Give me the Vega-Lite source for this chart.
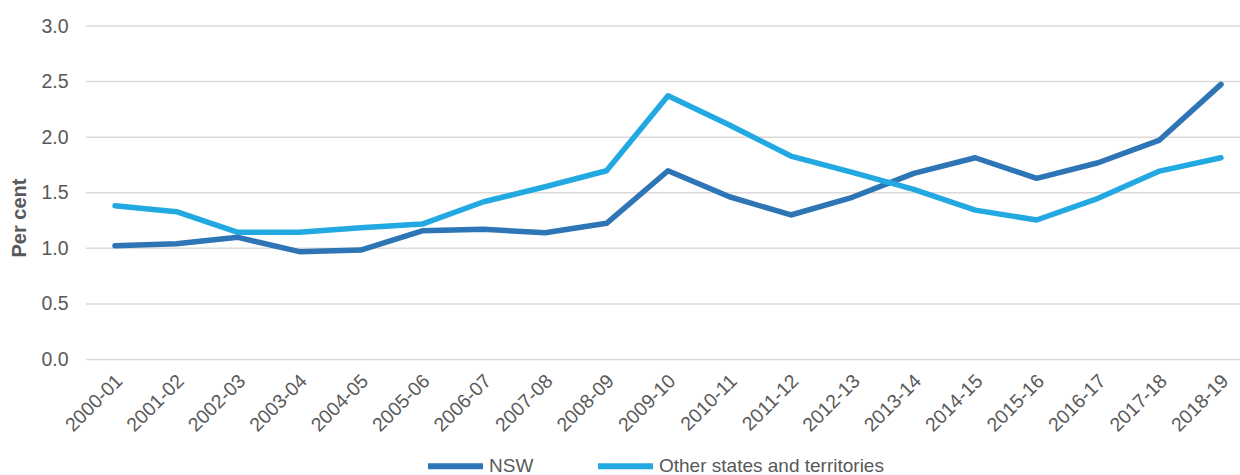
{
  "$schema": "https://vega.github.io/schema/vega-lite/v6.json",
  "width": 1154,
  "height": 333.5,
  "autosize": {"type": "none"},
  "padding": {"left": 86, "top": 26, "right": 0, "bottom": 115.5},
  "background": "white",
  "config": {
    "view": {"stroke": null},
    "font": "Liberation Sans",
    "axis": {"labelFont": "Liberation Sans", "titleFont": "Liberation Sans", "labelColor": "#595959", "titleColor": "#595959"},
    "legend": {"labelFont": "Liberation Sans"}
  },
  "datasets": {
    "grid": [{"g": 0}, {"g": 0.5}, {"g": 1}, {"g": 1.5}, {"g": 2}, {"g": 2.5}, {"g": 3}],
    "series": [
      {"year": "2000-01", "series": "NSW", "value": 1.023},
      {"year": "2001-02", "series": "NSW", "value": 1.041},
      {"year": "2002-03", "series": "NSW", "value": 1.099},
      {"year": "2003-04", "series": "NSW", "value": 0.97},
      {"year": "2004-05", "series": "NSW", "value": 0.985},
      {"year": "2005-06", "series": "NSW", "value": 1.158},
      {"year": "2006-07", "series": "NSW", "value": 1.171},
      {"year": "2007-08", "series": "NSW", "value": 1.141},
      {"year": "2008-09", "series": "NSW", "value": 1.225},
      {"year": "2009-10", "series": "NSW", "value": 1.698},
      {"year": "2010-11", "series": "NSW", "value": 1.464},
      {"year": "2011-12", "series": "NSW", "value": 1.30},
      {"year": "2012-13", "series": "NSW", "value": 1.459},
      {"year": "2013-14", "series": "NSW", "value": 1.674},
      {"year": "2014-15", "series": "NSW", "value": 1.815},
      {"year": "2015-16", "series": "NSW", "value": 1.63},
      {"year": "2016-17", "series": "NSW", "value": 1.77},
      {"year": "2017-18", "series": "NSW", "value": 1.974},
      {"year": "2018-19", "series": "NSW", "value": 2.475},
      {"year": "2000-01", "series": "Other states and territories", "value": 1.383},
      {"year": "2001-02", "series": "Other states and territories", "value": 1.33},
      {"year": "2002-03", "series": "Other states and territories", "value": 1.144},
      {"year": "2003-04", "series": "Other states and territories", "value": 1.144},
      {"year": "2004-05", "series": "Other states and territories", "value": 1.185},
      {"year": "2005-06", "series": "Other states and territories", "value": 1.218},
      {"year": "2006-07", "series": "Other states and territories", "value": 1.419},
      {"year": "2007-08", "series": "Other states and territories", "value": 1.554},
      {"year": "2008-09", "series": "Other states and territories", "value": 1.698},
      {"year": "2009-10", "series": "Other states and territories", "value": 2.372},
      {"year": "2010-11", "series": "Other states and territories", "value": 2.109},
      {"year": "2011-12", "series": "Other states and territories", "value": 1.83},
      {"year": "2012-13", "series": "Other states and territories", "value": 1.683},
      {"year": "2013-14", "series": "Other states and territories", "value": 1.53},
      {"year": "2014-15", "series": "Other states and territories", "value": 1.344},
      {"year": "2015-16", "series": "Other states and territories", "value": 1.255},
      {"year": "2016-17", "series": "Other states and territories", "value": 1.45},
      {"year": "2017-18", "series": "Other states and territories", "value": 1.695},
      {"year": "2018-19", "series": "Other states and territories", "value": 1.815}
    ]
  },
  "layer": [
    {
      "data": {"name": "grid"},
      "mark": {"type": "rule", "color": "#dcdad8", "strokeWidth": 1.5},
      "encoding": {
        "y": {
          "field": "g", "type": "quantitative",
          "scale": {"domain": [0, 3]},
          "axis": {
            "title": "Per cent", "titleFontSize": 20, "titleFontWeight": "bold",
            "titleAngle": -90, "titleAlign": "center", "titleBaseline": "alphabetic",
            "titleX": -61, "titleY": 191.5, "grid": false,
            "values": [0, 0.5, 1, 1.5, 2, 2.5, 3], "format": ".1f",
            "labelFontSize": 19.5, "ticks": false, "domain": false, "labelPadding": 18
          }
        }
      }
    },
    {
      "data": {"name": "series"},
      "mark": {"type": "line", "strokeWidth": 5.5, "strokeCap": "round", "strokeJoin": "round"},
      "encoding": {
        "x": {
          "field": "year", "type": "ordinal",
          "scale": {"type": "point", "padding": 0, "range": [29, 1135]},
          "axis": {
            "title": null, "labelAngle": -45, "labelAlign": "right", "labelBaseline": "middle",
            "labelFontSize": 19.5, "ticks": false,
            "domain": false, "grid": false, "labelPadding": 18, "labelOffset": 4
          }
        },
        "y": {
          "field": "value", "type": "quantitative",
          "scale": {"domain": [0, 3]},
          "axis": {
            "title": "Per cent", "titleFontSize": 20, "titleFontWeight": "bold",
            "titleAngle": -90, "titleAlign": "center", "titleBaseline": "alphabetic",
            "titleX": -61, "titleY": 191.5, "grid": false,
            "values": [0, 0.5, 1, 1.5, 2, 2.5, 3], "format": ".1f",
            "labelFontSize": 19.5, "ticks": false, "domain": false, "labelPadding": 18
          }
        },
        "color": {
          "field": "series", "type": "nominal",
          "scale": {"domain": ["NSW", "Other states and territories"], "range": ["#2E75B6", "#22A9E1"]},
          "legend": {
            "title": null, "orient": "none", "direction": "horizontal",
            "legendX": 339, "legendY": 409.5,
            "symbolType": "stroke", "symbolSize": 3025, "symbolStrokeWidth": 6,
            "labelFontSize": 19, "labelColor": "#595959", "labelOffset": 3, "labelLimit": 500,
            "columnPadding": 52
          }
        }
      }
    }
  ]
}
